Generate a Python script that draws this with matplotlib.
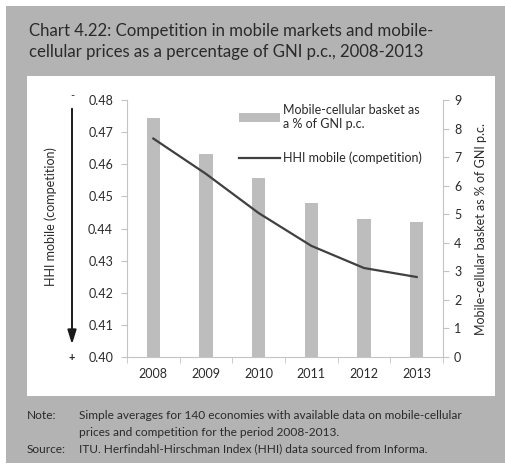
import numpy as np
import matplotlib
matplotlib.use("Agg")
import matplotlib.pyplot as plt
from matplotlib.patches import Rectangle

# valores do gráfico
anos = ["2008", "2009", "2010", "2011", "2012", "2013"]
cesta_pct_gni = [8.37, 7.11, 6.27, 5.39, 4.83, 4.73]
hhi_mobile = [0.468, 0.457, 0.4448, 0.4346, 0.4277, 0.4249]
hhi_ticks = [0.40, 0.41, 0.42, 0.43, 0.44, 0.45, 0.46, 0.47, 0.48]

plt.rcParams["font.family"] = ["Lato", "DejaVu Sans"]
cinza_painel = "#b3b3b3"
cinza_barra = "#bdbdbd"
cinza_eixo = "#c4c4c4"
texto = "#2a2a2a"

W, H = 506, 465
fig = plt.figure(figsize=(W / 100, H / 100), dpi=100)
fig.patch.set_facecolor("white")

def caixa(x0, y0, x1, y1, cor):
    # retângulo em pixels (origem no canto superior esquerdo)
    fig.patches.append(Rectangle((x0 / W, 1 - y1 / H), (x1 - x0) / W, (y1 - y0) / H,
                                 transform=fig.transFigure, facecolor=cor,
                                 edgecolor="none", zorder=-10))

caixa(6, 6, 506, 463, cinza_painel)
caixa(27, 76, 495, 396, "white")

# título
fig.text(29 / W, 1 - 31 / H, "Chart 4.22: Competition in mobile markets and mobile-",
         fontsize=12.1, color=texto, va="center", ha="left")
fig.text(29 / W, 1 - 52 / H, "cellular prices as a percentage of GNI p.c., 2008-2013",
         fontsize=12.1, color=texto, va="center", ha="left")

ax = fig.add_axes([127 / W, 1 - 357 / H, 316 / W, 257 / H])
ax2 = ax.twinx()
x = np.arange(len(anos))

ax2.bar(x, cesta_pct_gni, width=0.25, color=cinza_barra, zorder=1,
        label="Mobile-cellular basket as\na % of GNI p.c.")
ax.plot(x, hhi_mobile, color="#404040", lw=1.6, zorder=3, label="HHI mobile (competition)")

ax.set_zorder(ax2.get_zorder() + 1)
ax.patch.set_visible(False)

ax.set_xlim(-0.5, 5.5)
ax.set_ylim(0.40, 0.48)
ax.set_yticks(hhi_ticks)
ax.set_yticklabels([f"{v:.2f}" for v in hhi_ticks])
ax2.set_ylim(0, 9)
ax2.set_yticks(range(10))

ax.set_xticks(x)
ax.set_xticklabels(anos)
ax.set_xticks(np.arange(-0.5, 6, 1), minor=True)
ax.tick_params(axis="x", which="major", length=0, pad=8, labelsize=9, labelcolor=texto)
ax.tick_params(axis="x", which="minor", length=4, color=cinza_eixo, direction="out")
ax.tick_params(axis="y", length=4, color=cinza_eixo, labelsize=9, labelcolor=texto, pad=6)
ax2.tick_params(axis="y", length=4, color=cinza_eixo, labelsize=9, labelcolor=texto, pad=4)

for a in (ax, ax2):
    for s in a.spines.values():
        s.set_visible(False)
ax.spines["left"].set_visible(True)
ax.spines["left"].set_color(cinza_eixo)
ax.spines["bottom"].set_visible(True)
ax.spines["bottom"].set_color(cinza_eixo)
ax2.spines["right"].set_visible(True)
ax2.spines["right"].set_color(cinza_eixo)

ax2.set_ylabel("Mobile-cellular basket as % of GNI p.c.", fontsize=9, color=texto, labelpad=10)

# eixo esquerdo com seta de competição
fig.text(51 / W, 1 - 217 / H, "HHI mobile (competition)", rotation=90, fontsize=9,
         color=texto, ha="center", va="center")
fig.add_artist(matplotlib.patches.FancyArrowPatch(
    (72 / W, 1 - 106 / H), (72 / W, 1 - 347 / H), transform=fig.transFigure,
    arrowstyle="-|>,head_length=0.7,head_width=0.22", color="#1a1a1a", lw=1.4,
    mutation_scale=12))
fig.text(72 / W, 1 - 96 / H, "-", fontsize=8, color=texto, ha="center", va="center")
fig.text(72 / W, 1 - 357 / H, "+", fontsize=8, color=texto, ha="center", va="center",
         fontweight="bold")

# legenda
h1, l1 = ax2.get_legend_handles_labels()
h2, l2 = ax.get_legend_handles_labels()
leg = ax.legend(h1 + h2, l1 + l2, loc="upper left", bbox_to_anchor=(111 / 316, 0.99),
                frameon=False, fontsize=9, handlelength=3.3, handletextpad=0.2,
                labelspacing=1.75, borderaxespad=0.1, borderpad=0.0)
for t in leg.get_texts():
    t.set_color(texto)

# notas
nota = dict(fontsize=8.6, color=texto, va="center")
fig.text(27 / W, 1 - 415 / H, "Note:", **nota)
fig.text(79 / W, 1 - 415 / H,
         "Simple averages for 140 economies with available data on mobile-cellular", **nota)
fig.text(79 / W, 1 - 432 / H, "prices and competition for the period 2008-2013.", **nota)
fig.text(27 / W, 1 - 449 / H, "Source:", **nota)
fig.text(79 / W, 1 - 449 / H,
         "ITU. Herfindahl-Hirschman Index (HHI) data sourced from Informa.", **nota)

fig.savefig("out.png", dpi=100)
